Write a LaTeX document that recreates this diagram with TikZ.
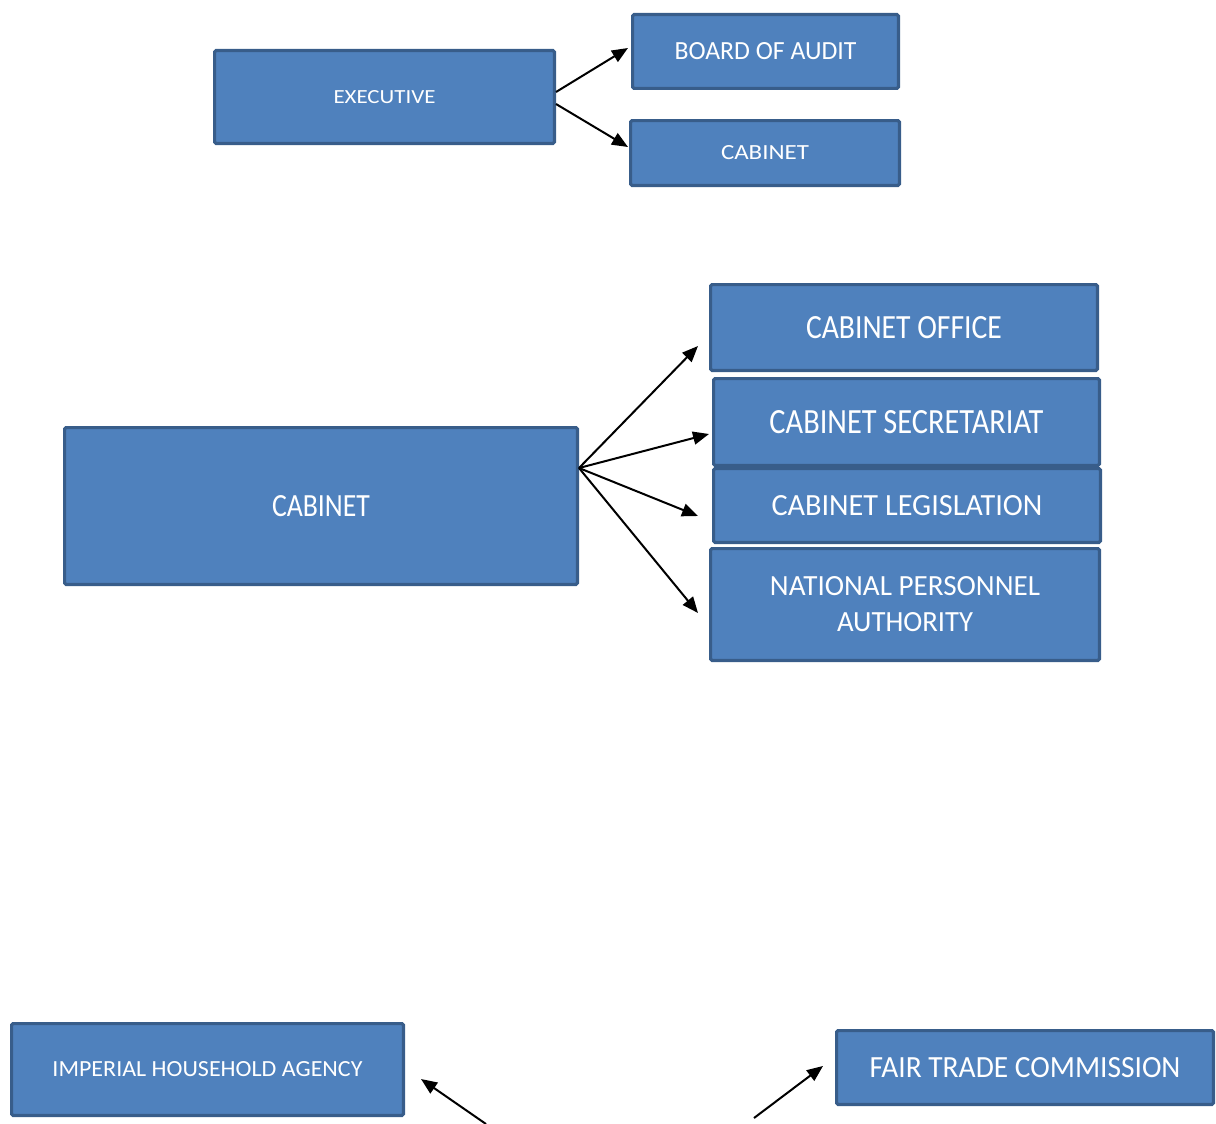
\documentclass[tikz,border=0pt]{standalone}
\usepackage{fontspec}
\setmainfont{Carlito}
\usetikzlibrary{arrows.meta}
\definecolor{boxfill}{HTML}{4F81BD}
\definecolor{boxline}{HTML}{385D8A}
\newcommand{\fitt}[3]{\resizebox{#1pt}{#2pt}{#3}}
\tikzset{
  orgbox/.style={draw=boxline, fill=boxfill, line width=3.2pt, rounded corners=1.5pt,
    text=white, inner sep=0pt, align=center, font=\fontsize{30}{36}\selectfont},
  arr/.style={draw=black, line width=2pt, -{Triangle[length=16pt,width=13pt]}}
}
\newcommand{\orgnode}[6]{%
  \node[orgbox, minimum width={#4-#2-3.2}, minimum height={#5-#3-3.2}]
    (#1) at ({(#2+#4)/2},{(#3+#5)/2}) {#6};}
\begin{document}
\begin{tikzpicture}[x=1pt,y=-1pt]
\useasboundingbox (0,0) rectangle (1216,1124);
% top
\orgnode{exec}{213}{49}{556}{145}{\fitt{102}{13}{EXECUTIVE}}
\orgnode{board}{631}{13}{900}{90}{\fitt{182}{17}{BOARD OF AUDIT}}
\orgnode{cabsmall}{629}{119}{901}{187}{\fitt{88}{14}{CABINET}}
% middle
\orgnode{cabbig}{63}{426}{579}{586}{\fitt{98}{21}{CABINET}}
\orgnode{office}{709}{283}{1099}{372}{\fitt{196}{22}{CABINET OFFICE}}
\orgnode{secr}{712}{377}{1101}{467}{\fitt{274}{23}{CABINET SECRETARIAT}}
\orgnode{legis}{712}{467}{1102}{544}{\fitt{271}{20}{CABINET LEGISLATION}}
\orgnode{npa}{709}{547}{1101}{662}{\fitt{270}{19}{NATIONAL PERSONNEL}\\\fitt{136}{19}{AUTHORITY}}
% bottom
\orgnode{imperial}{10}{1022}{405}{1117}{\fitt{310}{15}{IMPERIAL HOUSEHOLD AGENCY}}
\orgnode{fair}{835}{1029}{1215}{1106}{\fitt{311}{20}{FAIR TRADE COMMISSION}}
% connector ends
\coordinate (e1) at (556,92);
\coordinate (e2) at (556,104);
\coordinate (t1) at (628,48);
\coordinate (t2) at (628,147);
\coordinate (c0) at (579,468);
\coordinate (ta) at (698,346);
\coordinate (tb) at (709,434);
\coordinate (tc) at (698,516);
\coordinate (td) at (698,613);
\coordinate (b1) at (486,1124);
\coordinate (tb1) at (421,1079);
\coordinate (b2) at (754,1118);
\coordinate (tb2) at (823,1066);
\draw[arr] (e1) -- (t1);
\draw[arr] (e2) -- (t2);
\draw[arr] (c0) -- (ta);
\draw[arr] (c0) -- (tb);
\draw[arr] (c0) -- (tc);
\draw[arr] (c0) -- (td);
\draw[arr] (b1) -- (tb1);
\draw[arr] (b2) -- (tb2);
\end{tikzpicture}
\end{document}
